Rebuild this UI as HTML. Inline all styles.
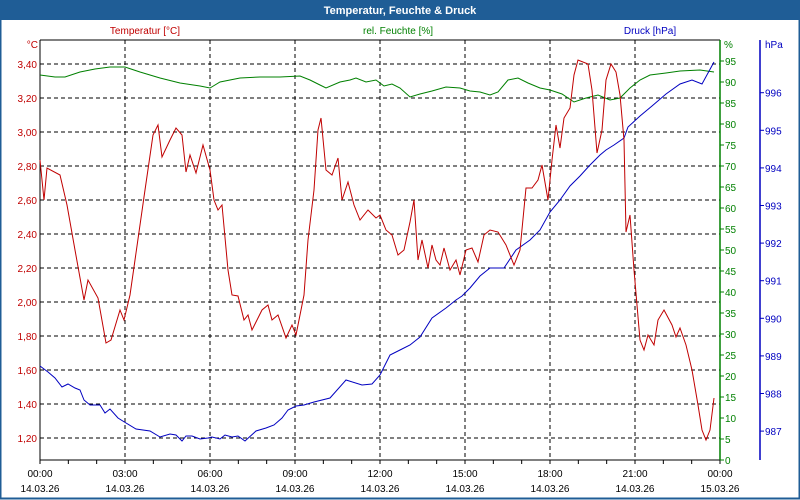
<!DOCTYPE html>
<html><head><meta charset="utf-8"><style>
body{margin:0;background:#fff;}
svg{display:block;font-family:"Liberation Sans",Tahoma,sans-serif;font-size:10px;}
</style></head><body>
<svg id="s" width="800" height="500" viewBox="0 0 800 500" xmlns="http://www.w3.org/2000/svg">
<rect x="0" y="0" width="800" height="500" fill="#fff"/>
<rect x="0" y="0" width="800" height="20" fill="#1f5d96"/>
<rect x="0.5" y="0.5" width="799" height="498" fill="none" stroke="#1f5d96" stroke-width="2"/>
<text x="400" y="14" text-anchor="middle" fill="#fff" font-weight="bold" font-size="11">Temperatur, Feuchte &amp; Druck</text>
<text x="145" y="34" text-anchor="middle" fill="#c00000">Temperatur [°C]</text>
<text x="398" y="34" text-anchor="middle" fill="#008000">rel. Feuchte [%]</text>
<text x="650" y="34" text-anchor="middle" fill="#0000c0">Druck [hPa]</text>
<text x="38" y="48" text-anchor="end" fill="#c00000">°C</text>
<text x="724" y="48" fill="#008000">%</text>
<text x="765" y="48" fill="#0000c0">hPa</text>
<g id="g"></g>
</svg>
<script>
var g=document.getElementById('g'),NS='http://www.w3.org/2000/svg',h='';
// grid
for(var i=0;i<12;i++){var y=438-i*34;h+='<line x1="40" y1="'+y+'" x2="720" y2="'+y+'" stroke="#000" stroke-dasharray="4,3"/>';
h+='<text x="37" y="'+(y+4)+'" text-anchor="end" fill="#c00000">'+(1.2+i*0.2).toFixed(2).replace('.',',')+'</text>';}
for(var i=1;i<8;i++){var x=40+i*85;h+='<line x1="'+x+'" y1="40" x2="'+x+'" y2="460" stroke="#000" stroke-dasharray="4,3"/>';}
h+='<line x1="40" y1="40" x2="720" y2="40" stroke="#000"/>';
h+='<line x1="40" y1="40" x2="40" y2="460" stroke="#000"/>';
h+='<line x1="40" y1="460" x2="720" y2="460" stroke="#000"/>';
for(var i=0;i<=24;i++){var x=40+i*85/3;h+='<line x1="'+x+'" y1="460" x2="'+x+'" y2="464" stroke="#000"/>';}
for(var i=0;i<=8;i++){var x=40+i*85;h+='<text x="'+x+'" y="477" text-anchor="middle" fill="#000">'+(i==8?'00':('0'+(i*3)).slice(-2))+':00</text><text x="'+x+'" y="492" text-anchor="middle" fill="#000">'+(i==8?'15.03.26':'14.03.26')+'</text>';}
h+='<line x1="720" y1="40" x2="720" y2="460" stroke="#008000" stroke-width="1.5"/>';
for(var i=0;i<=19;i++){var y=460-i*21;h+='<line x1="720" y1="'+y+'" x2="724" y2="'+y+'" stroke="#008000"/><text x="725" y="'+(y+4)+'" fill="#008000">'+(i*5)+'</text>';}
h+='<line x1="760" y1="40" x2="760" y2="460" stroke="#0000c0" stroke-width="1.5"/>';
for(var p=987;p<=996;p++){var y=92.7+(996-p)*37.6;h+='<line x1="760" y1="'+y+'" x2="764" y2="'+y+'" stroke="#0000c0"/><text x="765" y="'+(y+4)+'" fill="#0000c0">'+p+'</text>';}
var T="40,160 44,200 47,168 60,175 67,205 75,250 84,300 88,280 98,298 106,343 111,340 120,310 124,320 130,295 135,260 145,190 153,135 158,125 162,157 170,140 176,128 182,135 186,172 190,155 196,173 203,145 210,170 214,200 218,210 222,205 228,270 232,295 238,296 244,320 248,315 252,330 258,318 262,310 268,305 272,320 278,315 286,338 292,325 296,335 304,295 308,240 314,190 318,130 321,118 326,170 332,175 338,158 342,200 348,182 354,205 360,220 368,210 376,218 380,215 386,230 392,235 398,255 404,250 410,222 414,200 418,260 422,240 428,268 432,245 436,260 440,265 444,248 450,270 456,260 460,275 466,250 472,248 478,262 484,235 490,230 498,232 506,245 514,265 520,250 526,188 532,188 538,180 542,165 548,200 552,160 556,125 560,148 564,118 570,108 574,75 578,60 588,64 592,90 597,153 602,130 606,80 611,64 616,72 620,95 624,140 626,232 630,215 634,270 640,340 644,350 648,335 654,345 658,320 664,310 672,325 676,337 680,328 686,345 692,370 698,405 702,430 706,440 710,430 714,398";
var H="40,75 55,77 65,77 80,72 95,69 110,67 125,67 140,72 160,78 180,83 200,86 210,88 220,82 240,78 260,77 280,77 300,76 310,80 320,85 326,88 340,82 350,80 356,78 366,82 376,80 384,86 392,84 400,88 410,97 420,94 432,91 446,87 460,88 470,91 480,92 490,95 498,92 508,80 518,78 528,83 540,88 550,90 562,94 574,102 586,98 598,95 610,100 620,98 630,88 640,80 650,75 666,73 680,71 700,70 714,72";
var P="40,366 48,372 55,378 62,387 68,384 75,388 80,390 84,400 90,405 100,405 105,413 110,409 118,418 126,423 136,429 150,431 160,437 170,434 176,435 182,441 186,436 192,436 200,439 208,438 212,437 220,439 225,435 232,437 238,436 245,441 256,431 266,428 274,425 282,418 288,410 296,406 304,405 314,402 330,398 346,380 362,385 372,384 380,375 390,355 400,350 410,345 420,337 432,318 446,308 456,300 462,296 470,288 480,276 490,268 504,268 516,250 530,240 540,230 550,212 560,200 570,186 580,176 590,165 600,155 606,150 614,145 624,138 628,127 640,116 652,106 666,94 680,84 692,80 702,84 714,62";
h+='<polyline points="'+H+'" fill="none" stroke="#008000"/>';
h+='<polyline points="'+P+'" fill="none" stroke="#0000c0"/>';
h+='<polyline points="'+T+'" fill="none" stroke="#c00000"/>';
g.innerHTML=h;
</script>
</body></html>
